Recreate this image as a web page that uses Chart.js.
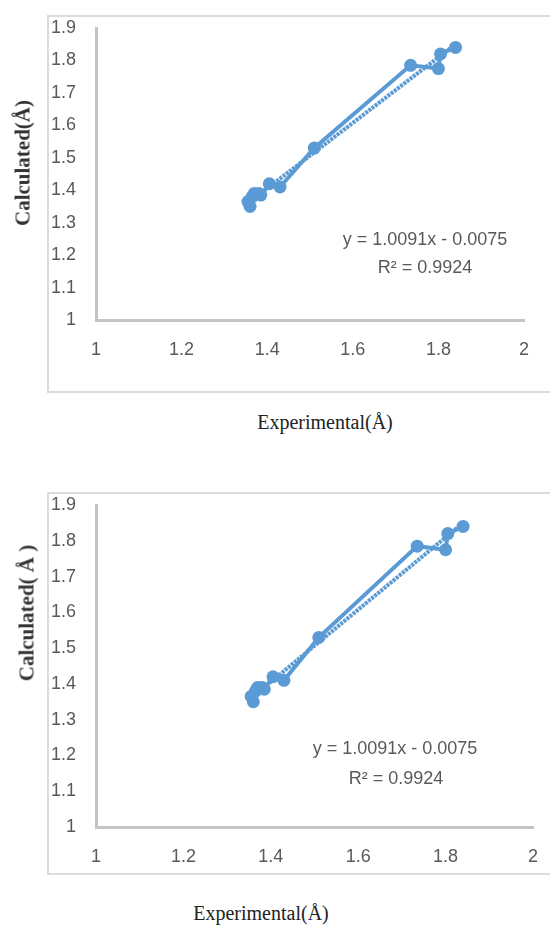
<!DOCTYPE html>
<html>
<head>
<meta charset="utf-8">
<script src="https://cdn.jsdelivr.net/npm/chart.js@4.4.1/dist/chart.umd.min.js"></script>
<style>
  body { margin: 0; width: 550px; height: 925px; background: #fff; overflow: hidden; position: relative; }
  .frame { position: absolute; box-sizing: border-box; border: 2px solid #dcdcdc; }
  canvas { position: absolute; left: 0; }
  .txt { position: absolute; transform: translate(-50%, -50%); white-space: nowrap; }
  .ytitle { font: bold 21px "Liberation Serif", serif; color: #333; transform: translate(-50%, -50%) rotate(-90deg); }
  .xtitle { font: 20px "Liberation Serif", serif; color: #222; }
  .eq { font: 18px "Liberation Sans", Arial, sans-serif; color: #595959; }
</style>
</head>
<body>
<div class="frame" style="left:47px; top:15px; width:520px; height:378px;"></div>
<div class="frame" style="left:47px; top:492px; width:520px; height:383px;"></div>

<canvas id="chartTop" width="550" height="400" style="top:0px;"></canvas>
<canvas id="chartBottom" width="550" height="440" style="top:460px;"></canvas>

<div class="txt ytitle" style="left:23px; top:163px;">Calculated(Å)</div>
<div class="txt xtitle" style="left:325px; top:422px;">Experimental(Å)</div>
<div class="txt eq" style="left:425px; top:239px;">y = 1.0091x - 0.0075</div>
<div class="txt eq" style="left:425px; top:267px;">R² = 0.9924</div>

<div class="txt ytitle" style="left:27px; top:613px;">Calculated( Å )</div>
<div class="txt xtitle" style="left:261px; top:913px;">Experimental(Å)</div>
<div class="txt eq" style="left:395px; top:748px;">y = 1.0091x - 0.0075</div>
<div class="txt eq" style="left:396px; top:778px;">R² = 0.9924</div>

<script>
// bond lengths (same data in both panels)
const experimental = [1.355, 1.36, 1.365, 1.37, 1.38, 1.385, 1.405, 1.43, 1.51, 1.735, 1.80, 1.805, 1.84];
const calculated   = [1.365, 1.35, 1.38, 1.39, 1.39, 1.385, 1.42, 1.41, 1.53, 1.785, 1.775, 1.82, 1.84];

// linear trendline end points as drawn
const trendX = [1.355, 1.84];
const trendY = [1.36, 1.85];

const xTicks = [1, 1.2, 1.4, 1.6, 1.8, 2];
const xTickLabels = ['1', '1.2', '1.4', '1.6', '1.8', '2'];
const yTicks = [1, 1.1, 1.2, 1.3, 1.4, 1.5, 1.6, 1.7, 1.8, 1.9];
const yTickLabels = ['1', '1.1', '1.2', '1.3', '1.4', '1.5', '1.6', '1.7', '1.8', '1.9'];

const blue = '#5b9bd5';
const axisGray = '#c4c4c4';
const tickFont = { family: '"Liberation Sans", Arial, sans-serif', size: 18 };

function makeChart(id, pad, xHeight) {
  const points = experimental.map((x, i) => ({ x: x, y: calculated[i] }));
  const trend = trendX.map((x, i) => ({ x: x, y: trendY[i] }));
  return new Chart(document.getElementById(id), {
    type: 'scatter',
    data: {
      datasets: [
        {
          data: points,
          showLine: true,
          borderColor: blue,
          borderWidth: 4,
          backgroundColor: blue,
          pointRadius: 6.5,
          pointBorderWidth: 0,
          pointBackgroundColor: blue
        },
        {
          data: trend,
          showLine: true,
          borderColor: blue,
          borderWidth: 4,
          borderDash: [3, 1],
          pointRadius: 0
        }
      ]
    },
    options: {
      responsive: false,
      animation: false,
      layout: { padding: pad },
      plugins: { legend: { display: false }, tooltip: { enabled: false } },
      scales: {
        x: {
          type: 'linear',
          min: 1,
          max: 2,
          afterBuildTicks: s => { s.ticks = xTicks.map(v => ({ value: v })); },
          afterFit: s => { s.height = xHeight; s.paddingLeft = 0; s.paddingRight = 0; },
          grid: { drawOnChartArea: false, drawTicks: false },
          border: { color: axisGray, width: 3 },
          ticks: { padding: 19, color: '#595959', font: tickFont, callback: (v, i) => xTickLabels[i] }
        },
        y: {
          type: 'linear',
          min: 1,
          max: 1.9,
          afterBuildTicks: s => { s.ticks = yTicks.map(v => ({ value: v })); },
          afterFit: s => { s.width = 96; s.paddingTop = 0; s.paddingBottom = 0; },
          grid: { drawOnChartArea: false, drawTicks: false },
          border: { color: axisGray, width: 3 },
          ticks: { padding: 20, color: '#595959', font: tickFont, callback: (v, i) => yTickLabels[i] }
        }
      }
    }
  });
}

makeChart('chartTop', { left: 0, top: 28, right: 26, bottom: 0 }, 80);
makeChart('chartBottom', { left: 0, top: 45, right: 17, bottom: 0 }, 73);
</script>
</body>
</html>
